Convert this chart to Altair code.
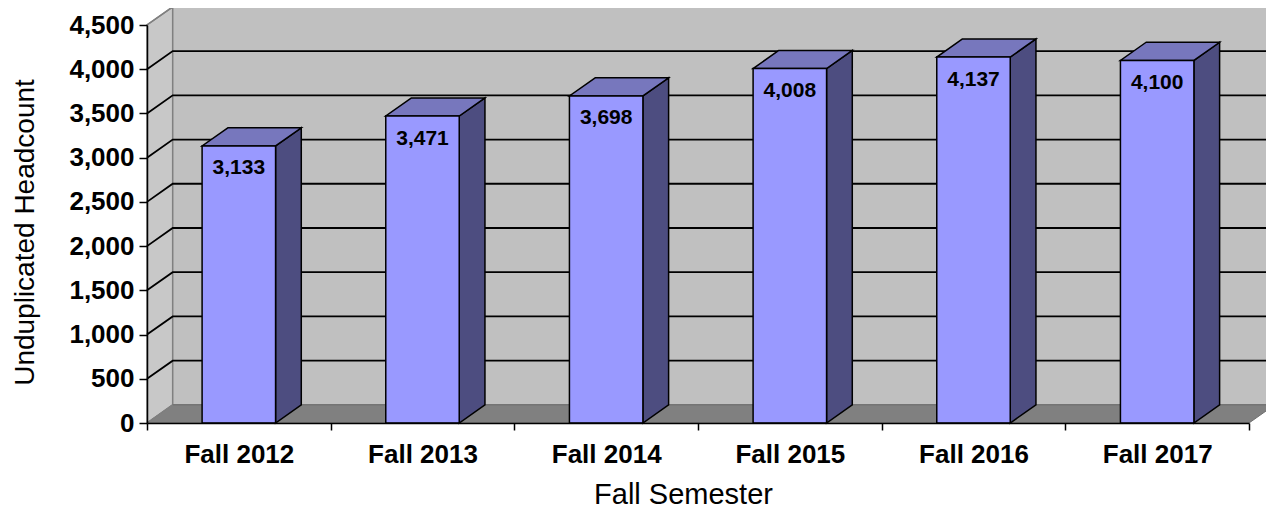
import json
import altair as alt
import pandas as pd

# ---- data ----
categories = ["Fall 2012", "Fall 2013", "Fall 2014", "Fall 2015", "Fall 2016", "Fall 2017"]
headcount = [3133, 3471, 3698, 4008, 4137, 4100]
y_ticks = [0, 500, 1000, 1500, 2000, 2500, 3000, 3500, 4000, 4500]
grid_values = [500, 1000, 1500, 2000, 2500, 3000, 3500, 4000]

# ---- 3D styling geometry (in data units) ----
N = len(categories)
YMAX = 4500
DX = 0.14      # depth offset along x (category units)
DY = 205       # depth offset along y (headcount units)
HALF = 0.2     # half bar width (category units)

FONT = "Liberation Sans, Arial, sans-serif"
xs = alt.Scale(domain=[0, N], nice=False, zero=False)
ys = alt.Scale(domain=[0, YMAX], nice=False, zero=False)

# walls & floor
left_wall = pd.DataFrame({"x": [0, DX], "y": [0, DY], "y2": [YMAX, YMAX + DY]})
back_wall = pd.DataFrame({"x": [DX], "x2": [N + DX], "y": [DY], "y2": [YMAX + DY]})
floor = pd.DataFrame({"y": [0, DY], "x": [0, DX], "x2": [N, N + DX]})

grid_rows = []
for v in grid_values:
    grid_rows += [
        {"g": v, "o": 0, "x": 0, "y": v},
        {"g": v, "o": 1, "x": DX, "y": v + DY},
        {"g": v, "o": 2, "x": N + DX, "y": v + DY},
    ]
grid = pd.DataFrame(grid_rows)
left_diag = pd.DataFrame([
    {"g": 0, "o": 0, "x": 0, "y": 0}, {"g": 0, "o": 1, "x": DX, "y": DY},
    {"g": 1, "o": 0, "x": 0, "y": YMAX}, {"g": 1, "o": 1, "x": DX, "y": YMAX + DY},
])

front_rows, side_rows, top_rows, label_rows = [], [], [], []
for i, (c, v) in enumerate(zip(categories, headcount)):
    xl, xr = i + 0.5 - HALF, i + 0.5 + HALF
    front_rows.append({"cat": c, "x": xl, "x2": xr, "y": v, "y2": 0})
    side_rows += [
        {"cat": c, "x": xr, "y": v, "y2": 0},
        {"cat": c, "x": xr + DX, "y": v + DY, "y2": DY},
    ]
    top_rows += [
        {"cat": c, "y": v, "x": xl, "x2": xr},
        {"cat": c, "y": v + DY, "x": xl + DX, "x2": xr + DX},
    ]
    label_rows.append({"cat": c, "x": i + 0.5, "y": v, "label": f"{v:,}"})

front = pd.DataFrame(front_rows)
side = pd.DataFrame(side_rows)
top = pd.DataFrame(top_rows)
labels = pd.DataFrame(label_rows)

x_values = [k / 2 for k in range(0, 2 * N + 1)]
label_expr = ("datum.value % 1 === 0 ? '' : " + json.dumps(categories)
              + "[floor(datum.value)]")

x_axis = alt.Axis(
    values=x_values, labelExpr=label_expr, title="Fall Semester",
    labelFont=FONT, labelFontSize=26, labelFontWeight="bold", labelColor="black",
    labelPadding=11, labelOverlap=False, labelFlush=False, labelBound=False,
    tickSize=7, tickColor="black", tickWidth=1.5,
    tickOpacity={"condition": {"test": "datum.value % 1 === 0", "value": 1}, "value": 0},
    domainColor="black", domainWidth=1.5, grid=False,
    titleFont=FONT, titleFontSize=29, titleFontWeight="normal", titleColor="black",
    titleAnchor="start", titleAlign="center", titleBaseline="alphabetic",
    titleX=536, titleY=80, zindex=1,
)
y_axis = alt.Axis(
    values=y_ticks, format=",.0f", title="Unduplicated Headcount",
    labelFont=FONT, labelFontSize=26, labelFontWeight="bold", labelColor="black",
    labelPadding=5, tickSize=8, tickColor="black", tickWidth=1.5,
    domainColor="black", domainWidth=1.5, grid=False,
    titleFont=FONT, titleFontSize=28, titleFontWeight="normal", titleColor="black",
    titleAngle=270, titleAlign="center", titleBaseline="alphabetic",
    titleX=-114, titleY=207, zindex=1,
)

X = lambda f: alt.X(f, scale=xs, axis=x_axis)
Y = lambda f: alt.Y(f, scale=ys, axis=y_axis)

WALL_STROKE = "#808080"

lw = alt.Chart(left_wall).mark_area(color="#C8C8C8", stroke=WALL_STROKE, strokeWidth=1.5, orient="vertical").encode(
    x=X("x:Q"), y=Y("y:Q"), y2="y2:Q",
)
bw = alt.Chart(back_wall).mark_rect(color="#C0C0C0", stroke=WALL_STROKE, strokeWidth=1.5).encode(
    x=X("x:Q"), x2="x2:Q", y=Y("y:Q"), y2="y2:Q",
)
fl = alt.Chart(floor).mark_area(color="#808080", stroke="#6E6E6E", strokeWidth=1, orient="horizontal").encode(
    y=Y("y:Q"), x=X("x:Q"), x2="x2:Q",
)
gl = alt.Chart(grid).mark_line(color="black", strokeWidth=1.8).encode(
    x=X("x:Q"), y=Y("y:Q"), detail="g:N", order="o:Q",
)
ld = alt.Chart(left_diag).mark_line(color=WALL_STROKE, strokeWidth=1.5).encode(
    x=X("x:Q"), y=Y("y:Q"), detail="g:N", order="o:Q",
)
sd = alt.Chart(side).mark_area(color="#4D4D80", stroke="black", strokeWidth=1.5, orient="vertical").encode(
    x=X("x:Q"), y=Y("y:Q"), y2="y2:Q", detail="cat:N",
)
tp = alt.Chart(top).mark_area(color="#7777BD", stroke="black", strokeWidth=1.5, orient="horizontal").encode(
    y=Y("y:Q"), x=X("x:Q"), x2="x2:Q", detail="cat:N",
)
fr = alt.Chart(front).mark_rect(color="#9999FF", stroke="black", strokeWidth=1.5).encode(
    x=X("x:Q"), x2="x2:Q", y=Y("y:Q"), y2="y2:Q",
)
tx = alt.Chart(labels).mark_text(font=FONT, fontSize=21, fontWeight="bold", color="black",
                                 baseline="alphabetic", align="center", dy=28.5).encode(
    x=X("x:Q"), y=Y("y:Q"), text="label:N",
)

chart = alt.layer(lw, bw, fl, gl, ld, sd, tp, fr, tx).properties(
    width=1102, height=398,
    autosize=alt.AutoSizeParams(type="none"),
    padding={"left": 139, "top": 17, "right": 17, "bottom": 86},
    background="white",
).configure_view(stroke=None)

chart.save("out.html", embed_options={"renderer": "svg", "actions": False})
